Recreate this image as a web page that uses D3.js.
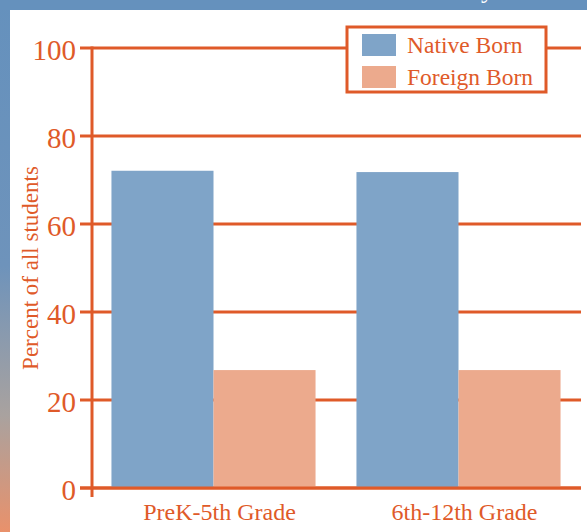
<!DOCTYPE html>
<html>
<head>
<meta charset="utf-8">
<script src="https://cdn.jsdelivr.net/npm/d3@7"></script>
<style>
  body { margin: 0; background: #fff; }
  svg text { font-family: "Liberation Serif", "DejaVu Serif", serif; fill: #df5a29; }
</style>
</head>
<body>
<div id="chart"></div>
<script>
const categories = ["PreK-5th Grade", "6th-12th Grade"];
const series = ["Native Born", "Foreign Born"];
const nativeBorn = [72.1, 71.8];
const foreignBorn = [26.8, 26.8];
const yTicks = [0, 20, 40, 60, 80, 100];

const W = 587, H = 532;
const ORANGE = "#df5a29";
const colors = { "Native Born": "#7fa4c8", "Foreign Born": "#ecaa8d" };

const svg = d3.select("#chart").append("svg")
    .attr("width", W)
    .attr("height", H);

// frame: gradient strip on the left, blue band on top
const grad = svg.append("defs").append("linearGradient")
    .attr("id", "side")
    .attr("x1", 0).attr("y1", 0).attr("x2", 0).attr("y2", 1);
grad.append("stop").attr("offset", "0").attr("stop-color", "#6591bd");
grad.append("stop").attr("offset", "0.5").attr("stop-color", "#6e93bb");
grad.append("stop").attr("offset", "0.78").attr("stop-color", "#a9a29f");
grad.append("stop").attr("offset", "1").attr("stop-color", "#e9916b");

svg.append("rect").attr("x", 0).attr("y", 0).attr("width", 10).attr("height", H)
    .attr("fill", "url(#side)");
svg.append("rect").attr("x", 0).attr("y", 0).attr("width", W).attr("height", 10)
    .attr("fill", "#6591bd");
// tail of the page title showing in the band
svg.append("text").attr("x", 481).attr("y", -2)
    .style("fill", "#fff").style("font-size", "26px").text("y");

const x = d3.scaleBand()
    .domain(categories)
    .range([91, 581])
    .paddingInner(0.167)
    .paddingOuter(0.0835);

const xs = d3.scaleBand()
    .domain(series)
    .range([0, x.bandwidth()]);

const y = d3.scaleLinear()
    .domain([0, 100])
    .range([488, 48]);

// gridlines
svg.append("g")
    .selectAll("line")
    .data(yTicks)
    .enter()
    .append("line")
    .attr("x1", 80).attr("x2", 581)
    .attr("y1", d => y(d)).attr("y2", d => y(d))
    .attr("stroke", ORANGE)
    .attr("stroke-width", 3);

// bars
const rows = categories.map((c, i) => ({ cat: c, values: [nativeBorn[i], foreignBorn[i]] }));
svg.append("g")
    .selectAll("g")
    .data(rows)
    .enter()
    .append("g")
    .attr("transform", d => `translate(${x(d.cat)},0)`)
    .selectAll("rect")
    .data(d => series.map((s, j) => ({ s: s, v: d.values[j] })))
    .enter()
    .append("rect")
    .attr("x", d => xs(d.s))
    .attr("width", xs.bandwidth())
    .attr("y", d => y(d.v))
    .attr("height", d => y(0) - y(d.v))
    .attr("fill", d => colors[d.s]);

// baseline drawn over bars
svg.append("line")
    .attr("x1", 80).attr("x2", 581)
    .attr("y1", y(0)).attr("y2", y(0))
    .attr("stroke", ORANGE).attr("stroke-width", 3);

// y axis line
svg.append("line")
    .attr("x1", 92).attr("x2", 92)
    .attr("y1", y(100) - 1.5).attr("y2", 497)
    .attr("stroke", ORANGE).attr("stroke-width", 3);

// tick labels
svg.append("g")
    .selectAll("text")
    .data(yTicks)
    .enter()
    .append("text")
    .attr("x", 76)
    .attr("y", d => y(d))
    .attr("dy", "0.4em")
    .attr("text-anchor", "end")
    .style("font-size", "29px")
    .text(d => d);

svg.append("text")
    .attr("transform", "translate(38,268) rotate(-90)")
    .attr("text-anchor", "middle")
    .style("font-size", "23px")
    .text("Percent of all students");

svg.append("g")
    .selectAll("text")
    .data(categories)
    .enter()
    .append("text")
    .attr("x", d => x(d) + x.bandwidth() / 2 + 6)
    .attr("y", 520)
    .attr("text-anchor", "middle")
    .style("font-size", "24px")
    .text(d => d);

// legend
const legend = svg.append("g");
legend.append("rect")
    .attr("x", 347).attr("y", 27)
    .attr("width", 199).attr("height", 65)
    .attr("fill", "#fff")
    .attr("stroke", ORANGE).attr("stroke-width", 3);
const items = legend.selectAll("g.item")
    .data(series)
    .enter()
    .append("g")
    .attr("transform", (d, i) => `translate(362,${34 + i * 32})`);
items.append("rect")
    .attr("width", 34).attr("height", 22)
    .attr("fill", d => colors[d]);
items.append("text")
    .attr("x", 45).attr("y", 11)
    .attr("dy", "0.35em")
    .style("font-size", "23.5px")
    .text(d => d);
</script>
</body>
</html>
